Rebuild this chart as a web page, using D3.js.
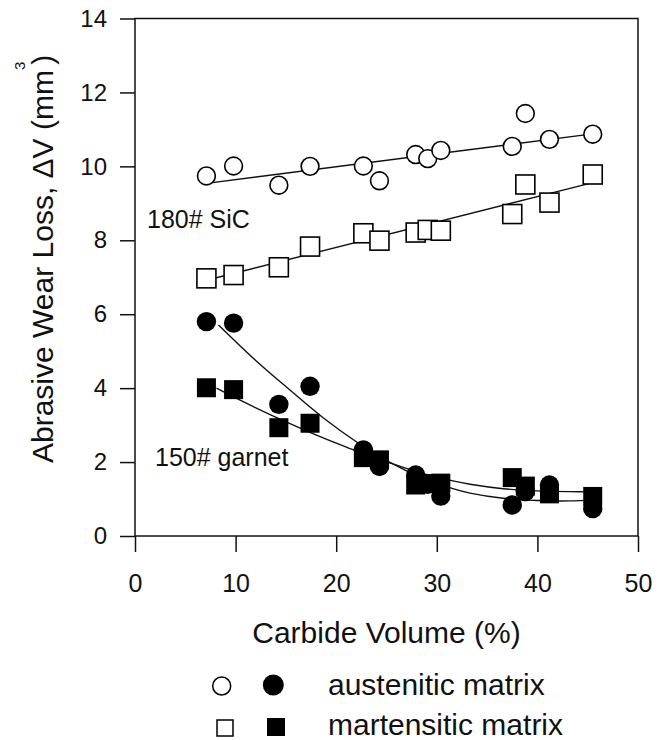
<!DOCTYPE html>
<html>
<head>
<meta charset="utf-8">
<script src="https://cdn.jsdelivr.net/npm/d3@7"></script>
<style>
  html, body { margin: 0; padding: 0; background: #fff; }
  text { font-family: "Liberation Sans", Arial, Helvetica, sans-serif; fill: #111; }
</style>
</head>
<body>
<div id="container"></div>
<script>
// Carbide volume (%) of the alloys, shared by all four series
var carbideVol = [7.1, 9.8, 14.3, 17.4, 22.7, 24.3, 27.9, 29.1, 30.4, 37.5, 38.8, 41.2, 45.5];

// Wear loss (mm3), 180# SiC abrasive
var austSiC = [9.74, 10.01, 9.49, 10.0, 10.01, 9.61, 10.32, 10.21, 10.43, 10.54, 11.43, 10.73, 10.87];
var martSiC = [6.97, 7.06, 7.27, 7.83, 8.19, 7.99, 8.21, 8.28, 8.26, 8.71, 9.51, 9.02, 9.78];

// Wear loss (mm3), 150# garnet abrasive
var austGarnet = [5.8, 5.76, 3.56, 4.05, 2.33, 1.88, 1.65, 1.4, 1.08, 0.84, 1.2, 1.38, 0.74];
var martGarnet = [4.01, 3.96, 2.93, 3.05, 2.12, 2.06, 1.38, 1.42, 1.43, 1.58, 1.35, 1.14, 1.07];

// Fitted lines / curves
var austSiCFitX = [7.1, 45.5];
var austSiCFitY = [9.54, 10.88];
var martSiCFitX = [7.1, 45.5];
var martSiCFitY = [6.92, 9.56];
var austGarnetFitX = [8.3, 12.0, 15.4, 18.7, 22.0, 25.3, 28.5, 31.6, 33.3, 36.6, 40.0, 43.2, 45.5];
var austGarnetFitY = [5.71, 4.75, 3.95, 3.2, 2.55, 2.0, 1.58, 1.28, 1.16, 1.02, 0.96, 0.95, 0.97];
var martGarnetFitX = [8.1, 10.4, 13.7, 17.1, 20.4, 22.0, 25.3, 28.5, 31.6, 33.3, 36.6, 40.0, 43.2, 45.5];
var martGarnetFitY = [4.0, 3.68, 3.25, 2.84, 2.47, 2.3, 1.98, 1.7, 1.49, 1.4, 1.28, 1.22, 1.2, 1.2];

// Axis ticks
var xTicks = [0, 10, 20, 30, 40, 50];
var yTicks = [0, 2, 4, 6, 8, 10, 12, 14];

var width = 659;
var height = 740;
var plot = {left: 135, right: 638, top: 18.5, bottom: 536};

var svg = d3.select("#container")
            .append("svg")
            .attr("width", width)
            .attr("height", height)
            .style("background", "#fff");

var xScale = d3.scaleLinear().domain([0, 50]).range([plot.left, plot.right]);
var yScale = d3.scaleLinear().domain([0, 14]).range([plot.bottom, plot.top]);

// Axes
var xAxis = d3.axisBottom(xScale).tickValues(xTicks).tickSize(16).tickSizeOuter(0).tickPadding(22);
var yAxis = d3.axisLeft(yScale).tickValues(yTicks).tickSize(15).tickSizeOuter(0).tickPadding(13);

var gx = svg.append("g")
   .attr("transform", "translate(0," + plot.bottom + ")")
   .call(xAxis);
gx.selectAll("text").style("font-size", "25px").attr("fill", "#111");

var gy = svg.append("g")
   .attr("transform", "translate(" + plot.left + ",0)")
   .call(yAxis);
gy.selectAll("text").style("font-size", "24px").attr("fill", "#111");

svg.selectAll(".domain").remove();
svg.selectAll(".tick line").attr("stroke", "#111").attr("stroke-width", 1.5);

// Frame around the plot
svg.append("rect")
   .attr("x", plot.left)
   .attr("y", plot.top)
   .attr("width", plot.right - plot.left)
   .attr("height", plot.bottom - plot.top)
   .attr("fill", "none")
   .attr("stroke", "#111")
   .attr("stroke-width", 1.5);

// Fitted lines
function drawFit(xs, ys) {
  var pts = xs.map((d, i) => [d, ys[i]]);
  svg.append("path")
     .datum(pts)
     .attr("fill", "none")
     .attr("stroke", "#111")
     .attr("stroke-width", 1.4)
     .attr("d", d3.line()
                  .x((d) => xScale(d[0]))
                  .y((d) => yScale(d[1]))
                  .curve(d3.curveCatmullRom.alpha(0.5)));
}
drawFit(austSiCFitX, austSiCFitY);
drawFit(martSiCFitX, martSiCFitY);
drawFit(austGarnetFitX, austGarnetFitY);
drawFit(martGarnetFitX, martGarnetFitY);

// Markers
var r = 9.7;
var half = 9.5;

function drawCircles(vals, filled) {
  svg.append("g").selectAll("circle")
     .data(vals)
     .enter()
     .append("circle")
     .attr("cx", (d, i) => xScale(carbideVol[i]))
     .attr("cy", (d) => yScale(d))
     .attr("r", filled ? r : r - 0.8)
     .attr("fill", filled ? "#000" : "#fff")
     .attr("stroke", "#000")
     .attr("stroke-width", filled ? 0 : 1.6);
}
function drawSquares(vals, filled) {
  svg.append("g").selectAll("rect")
     .data(vals)
     .enter()
     .append("rect")
     .attr("x", (d, i) => xScale(carbideVol[i]) - half)
     .attr("y", (d) => yScale(d) - half)
     .attr("width", 2 * half)
     .attr("height", 2 * half)
     .attr("fill", filled ? "#000" : "#fff")
     .attr("stroke", "#000")
     .attr("stroke-width", filled ? 0 : 1.6);
}
drawCircles(austSiC, false);
drawSquares(martSiC, false);
drawCircles(austGarnet, true);
drawSquares(martGarnet, true);

// Abrasive labels
svg.append("text")
   .attr("x", 147).attr("y", 228)
   .style("font-size", "25px")
   .text("180# SiC");

svg.append("text")
   .attr("x", 155).attr("y", 466)
   .style("font-size", "25px")
   .text("150# garnet");

// Axis titles
svg.append("text")
   .attr("x", (plot.left + plot.right) / 2)
   .attr("y", 643)
   .attr("text-anchor", "middle")
   .style("font-size", "30px")
   .text("Carbide Volume (%)");

var yTitle = svg.append("text")
   .attr("transform", "translate(53,463) rotate(-90)")
   .style("font-size", "30px");
yTitle.append("tspan").text("Abrasive Wear Loss, \u0394V (mm");
yTitle.append("tspan").attr("dy", -28).style("font-size", "15px").text("3");
yTitle.append("tspan").attr("dy", 28).attr("dx", -3).text(")");

// Legend
var legend = svg.append("g");
legend.append("circle").attr("cx", 221.7).attr("cy", 686).attr("r", 9)
      .attr("fill", "#fff").attr("stroke", "#000").attr("stroke-width", 1.5);
legend.append("circle").attr("cx", 273.3).attr("cy", 685).attr("r", 10.5)
      .attr("fill", "#000");
legend.append("rect").attr("x", 217).attr("y", 720).attr("width", 16).attr("height", 16)
      .attr("fill", "#fff").attr("stroke", "#000").attr("stroke-width", 1.5);
legend.append("rect").attr("x", 267).attr("y", 718).attr("width", 18).attr("height", 18)
      .attr("fill", "#000");
legend.append("text").attr("x", 328).attr("y", 695).style("font-size", "30px").text("austenitic matrix");
legend.append("text").attr("x", 328).attr("y", 735).style("font-size", "30px").text("martensitic matrix");
</script>
</body>
</html>
